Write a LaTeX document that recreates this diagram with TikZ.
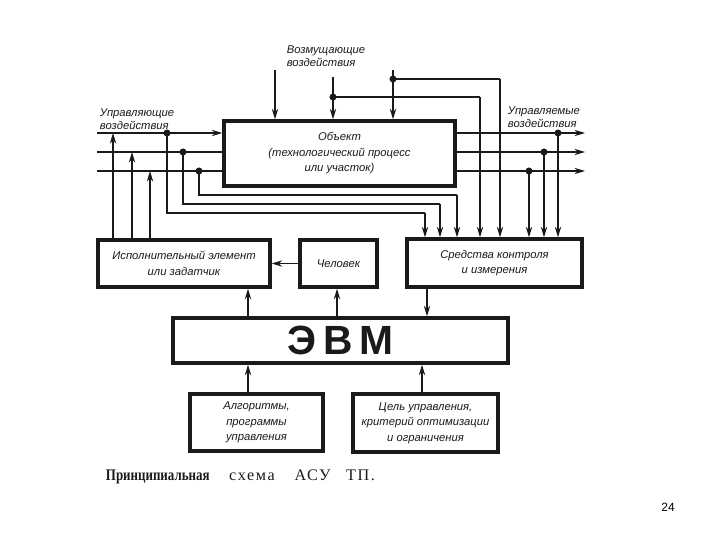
\documentclass[tikz,border=0pt]{standalone}
\usepackage{fontspec}
\setmainfont{Liberation Serif}
\setsansfont{Liberation Sans}
\usepackage{tikz}
\usetikzlibrary{arrows.meta,positioning,calc}
\usepackage{xcolor}
\definecolor{ink}{HTML}{1A1A1A}

\begin{document}
\begin{tikzpicture}[
  x=0.025cm, y=-0.025cm,
  block/.style={rectangle, draw=ink, line width=2.4pt, fill=white,
                font=\sffamily\itshape\fontsize{8}{11}\selectfont,
                align=center, text=ink},
  sig/.style={-{Stealth[length=7.5pt,width=4.5pt]}, line width=1.1pt, color=ink},
  fbk/.style={line width=1.4pt, color=ink},
  wire/.style={line width=0.8pt, color=ink},
  dot/.style={circle, fill=ink, inner sep=0pt, minimum size=5pt},
  note/.style={font=\sffamily\itshape\fontsize{8}{9.5}\selectfont, text=ink, align=left},
]
  \useasboundingbox (0,0) rectangle (720,540);

  % blocks
  \node[block, minimum width=5.775cm, minimum height=1.625cm] (obj) at (339.5,153.5)
       {Объект\\(технологический процесс\\или участок)};
  \node[block, minimum width=4.3cm, minimum height=1.175cm] (exec) at (184,263.5)
       {Исполнительный элемент\\или задатчик};
  \node[block, minimum width=1.925cm, minimum height=1.175cm] (man) at (338.5,263.5) {Человек};
  \node[block, minimum width=4.375cm, minimum height=1.2cm] (ctrl) at (494.5,263)
       {Средства контроля\\и измерения};
  \node[block, minimum width=8.375cm, minimum height=1.125cm,
        font=\sffamily\bfseries\fontsize{29}{30}\selectfont] (evm) at (340.5,340.5)
       {Э\hspace{5pt}В\hspace{5pt}М};
  \node[block, minimum width=3.325cm, minimum height=1.425cm] (alg) at (256.5,422.5)
       {Алгоритмы,\\программы\\управления};
  \node[block, minimum width=3.625cm, minimum height=1.45cm] (goal) at (425.5,423)
       {Цель управления,\\критерий оптимизации\\и ограничения};

  % labels
  \node[note, anchor=west] (lin) at (95,119) {Управляющие\\воздействия};
  \node[note] (ldist) at (326,56) {Возмущающие\\воздействия};
  \node[note, anchor=west] (lout) at (503,117) {Управляемые\\воздействия};

  % inputs
  \coordinate (in1) at (97,133);
  \coordinate (in2) at (97,152);
  \coordinate (in3) at (97,171);
  \draw[wire, -{Stealth[length=7.5pt,width=4.5pt]}] (in1) -- (in1 -| obj.west);
  \draw[wire] (in2) -- (in2 -| obj.west);
  \draw[wire] (in3) -- (in3 -| obj.west);

  \coordinate (u1) at (113,133);
  \coordinate (u2) at (132,152);
  \coordinate (u3) at (150,171);
  \foreach \u in {u1,u2,u3}
    \draw[sig] (exec.north -| \u) -- (\u);

  % feedback from inputs to ctrl
  \node[dot] (j1) at (167,133) {};
  \node[dot] (j2) at (183,152) {};
  \node[dot] (j3) at (199,171) {};
  \coordinate (a1) at (425,213);
  \coordinate (a2) at (440,204);
  \coordinate (a3) at (457,195);
  \draw[fbk] (j1.center) |- (a1);
  \draw[fbk] (j2.center) |- (a2);
  \draw[fbk] (j3.center) |- (a3);
  \draw[sig] (a1) -- (a1 |- ctrl.north);
  \draw[sig] (a2) -- (a2 |- ctrl.north);
  \draw[sig] (a3) -- (a3 |- ctrl.north);

  % disturbances
  \coordinate (d1) at (275,70);
  \coordinate (d2) at (333,77);
  \coordinate (d3) at (393,70);
  \foreach \d in {d1,d2,d3}
    \draw[sig] (\d) -- (\d |- obj.north);
  \node[dot] (k2) at (333,97) {};
  \node[dot] (k3) at (393,79) {};
  \coordinate (b2) at (480,97);
  \coordinate (b3) at (500,79);
  \draw[fbk] (k2.center) -- (b2);
  \draw[fbk] (k3.center) -- (b3);
  \draw[sig] (b2) -- (b2 |- ctrl.north);
  \draw[sig] (b3) -- (b3 |- ctrl.north);

  % outputs
  \coordinate (o1) at (585,133);
  \coordinate (o2) at (585,152);
  \coordinate (o3) at (585,171);
  \foreach \o in {o1,o2,o3}
    \draw[wire, -{Stealth[length=7.5pt,width=4.5pt]}] (\o -| obj.east) -- (\o);
  \node[dot] (p1) at (558,133) {};
  \node[dot] (p2) at (544,152) {};
  \node[dot] (p3) at (529,171) {};
  \foreach \p in {p1,p2,p3}
    \draw[sig] (\p.center) -- (\p |- ctrl.north);

  % lower links
  \coordinate (c1) at (427,300);
  \draw[sig] (c1 |- ctrl.south) -- (c1 |- evm.north);
  \coordinate (e1) at (248,300);
  \coordinate (e2) at (337,300);
  \draw[sig] (e1 |- evm.north) -- (e1 |- exec.south);
  \draw[sig] (e2 |- evm.north) -- (e2 |- man.south);
  \draw[sig] (man.west) -- (exec.east);
  \coordinate (g1) at (248,380);
  \coordinate (g2) at (422,380);
  \draw[sig] (g1 |- alg.north) -- (g1 |- evm.south);
  \draw[sig] (g2 |- goal.north) -- (g2 |- evm.south);

  % caption
  \node[anchor=west, font=\fontsize{11.5}{13}\selectfont, text=ink] (cap) at (101,477)
       {{\bfseries\addfontfeatures{FakeStretch=0.8}Принципиальная}\hspace{14pt}%
        {\addfontfeatures{LetterSpace=10}схема\hspace{14pt}АСУ\hspace{11pt}ТП.}};
  \node[font=\sffamily\fontsize{8.5}{10}\selectfont] (page) at (668,507) {24};
\end{tikzpicture}
\end{document}
